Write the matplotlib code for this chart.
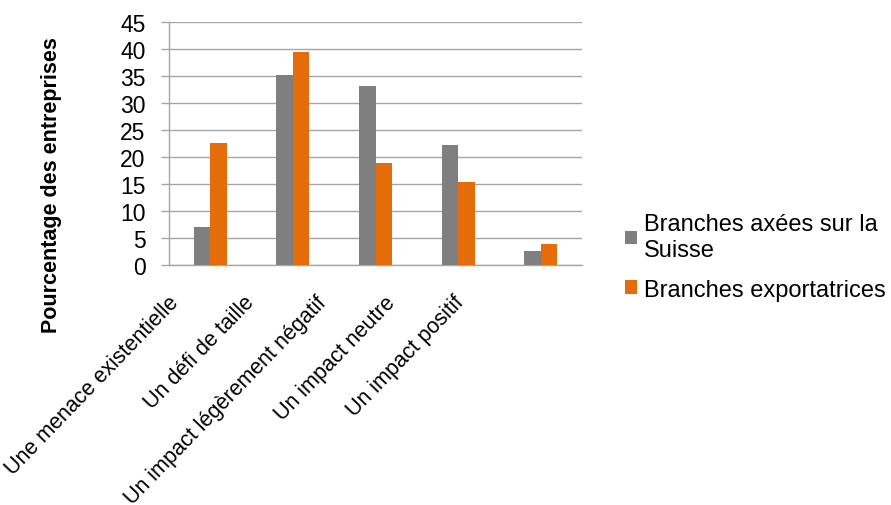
import matplotlib
matplotlib.use("Agg")
import matplotlib.pyplot as plt
from matplotlib.transforms import ScaledTranslation
import numpy as np

categories = ["Une menace existentielle", "Un défi de taille", "Un impact légèrement négatif",
              "Un impact neutre", "Un impact positif"]
series_names = ["Branches axées sur la\nSuisse", "Branches exportatrices"]
suisse = [6.9, 35.1, 33.1, 22.2, 2.5]
export = [22.5, 39.3, 18.8, 15.4, 3.8]
yticks = [0, 5, 10, 15, 20, 25, 30, 35, 40, 45]

plt.rcParams['font.family'] = ['Liberation Sans', 'DejaVu Sans']

fig = plt.figure(figsize=(8.91, 5.06), dpi=100)
ax = fig.add_axes([169/891, 1-265.7/506, 413/891, 243/506])

x = np.arange(len(categories))
w = 0.2
b1 = ax.bar(x - w/2, suisse, w, color="#7F7F7F", label=series_names[0], zorder=3)
b2 = ax.bar(x + w/2, export, w, color="#E46C0A", label=series_names[1], zorder=3)

ax.set_xlim(-0.5, len(categories) - 0.5)
ax.set_ylim(0, 45)
ax.set_yticks(yticks)
ax.set_yticklabels([str(t) for t in yticks], fontsize=16.5)
ax.yaxis.grid(True, color="#A6A6A6", linewidth=1.0, zorder=0)
ax.tick_params(axis='y', length=6, color="#A6A6A6", width=1.0, pad=11)
ax.set_xticks(x)
ax.set_xticklabels([])
ax.tick_params(axis='x', length=0)
for s in ['top', 'right']:
    ax.spines[s].set_visible(False)
for s in ['left', 'bottom']:
    ax.spines[s].set_color("#A6A6A6")
    ax.spines[s].set_linewidth(1.0)

# category labels, rotated, offset (in pixels) to mimic the reference placement
label_dx = [-42, -50, -60, -74, -88]
label_dy = [-27, -27, -27, -27, -27]
for i, cat in enumerate(categories):
    tr = ax.get_xaxis_transform() + ScaledTranslation(label_dx[i] / 100, label_dy[i] / 100,
                                                      fig.dpi_scale_trans)
    ax.text(x[i], 0, cat, transform=tr, rotation=46, ha='right', va='top',
            rotation_mode='anchor', fontsize=15.5)

fig.text(52/891, 1-185/506, "Pourcentage des entreprises", rotation=90, fontsize=15.5,
         fontweight='bold', ha='center', va='center')

leg = fig.legend(handles=[b1, b2], labels=series_names, loc='center left',
                 bbox_to_anchor=(604/891, 1-258/506), frameon=False, fontsize=17,
                 handlelength=0.5, handleheight=0.5, handletextpad=0.3, labelspacing=0.75)

fig.savefig("out.png", dpi=100)
